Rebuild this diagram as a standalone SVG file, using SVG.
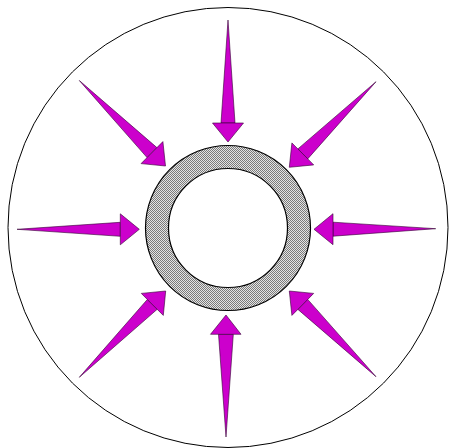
<svg xmlns="http://www.w3.org/2000/svg" width="449" height="448" viewBox="0 0 449 448">
  <defs>
    <pattern id="checker" width="2" height="2" patternUnits="userSpaceOnUse">
      <rect width="2" height="2" fill="#e4e4e4"/>
      <rect x="0" y="0" width="1" height="1" fill="#7a7a7a"/>
      <rect x="1" y="1" width="1" height="1" fill="#7a7a7a"/>
    </pattern>
  </defs>
  <style>
    .arrow polygon { fill: #cc00cc; stroke: #330033; stroke-width: 0.6; stroke-linejoin: miter; }
    .ring { fill: url(#checker); fill-rule: evenodd; stroke: #000; stroke-width: 1.2; }
    .outer { fill: #ffffff; stroke: #000; stroke-width: 1; }
  </style>
  <rect width="449" height="448" fill="#ffffff"/>
  <g id="outer-circle">
    <circle class="outer" cx="228" cy="227.5" r="220"/>
  </g>
  <g id="ring">
    <path class="ring" d="M 145.5 228 A 82.5 82.5 0 1 0 310.5 228 A 82.5 82.5 0 1 0 145.5 228 Z M 168.5 228 A 59.5 59.5 0 1 0 287.5 228 A 59.5 59.5 0 1 0 168.5 228 Z"/>
  </g>
  <g id="arrows">
    <g id="arrow-top" class="arrow">
      <polygon points="228,20 235,123 221,123"/>
      <polygon points="243.5,123 228,142 212.5,123"/>
    </g>
    <g id="arrow-bottom" class="arrow">
      <polygon points="226,437 233.3,334.3 218.5,334.3"/>
      <polygon points="241,334.3 226,315 210.5,334.3"/>
    </g>
    <g id="arrow-left" class="arrow">
      <polygon points="17,229.3 120.3,236.3 120.3,222.3"/>
      <polygon points="120.3,244.8 139.3,229.3 120.3,213.8"/>
    </g>
    <g id="arrow-right" class="arrow">
      <polygon points="435.7,228.7 333,222.2 333,236.2"/>
      <polygon points="333,213.7 314,229.3 333,244.7"/>
    </g>
    <g id="arrow-upper-left" class="arrow">
      <polygon points="79.3,80.5 147.1,157.6 156.9,147.6"/>
      <polygon points="141.1,163.6 165.5,166 162.9,141.6"/>
    </g>
    <g id="arrow-upper-right" class="arrow">
      <polygon points="376,81.7 297.9,148.9 307.7,158.9"/>
      <polygon points="291.9,142.9 289.3,167.3 313.7,164.9"/>
    </g>
    <g id="arrow-lower-left" class="arrow">
      <polygon points="79.3,377.3 157.2,309.3 147.3,299.5"/>
      <polygon points="163.3,315.4 165.7,291 141.3,293.4"/>
    </g>
    <g id="arrow-lower-right" class="arrow">
      <polygon points="376,376.7 307.7,299.4 297.9,309.4"/>
      <polygon points="313.7,293.4 289.3,291 291.9,315.4"/>
    </g>
  </g>
</svg>
